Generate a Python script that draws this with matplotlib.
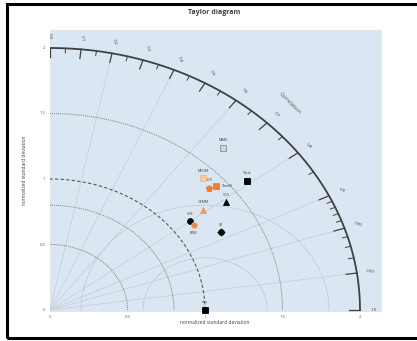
'''
Taylor diagram of normalized standard deviation vs correlation.
'''
import numpy as np
import matplotlib
matplotlib.use('Agg')
import matplotlib.pyplot as plt
from matplotlib.patches import Rectangle

plt.rcParams['font.family'] = ['Open Sans', 'DejaVu Sans']

# data
models = ['obs', 'MAM', 'MOSM', 'LGR', 'TimeN', 'Total',
          'SOS', 'GEMM', 'GSF', 'ERM', 'LR']
std_dev = [1.0, 1.67, 1.41, 1.39, 1.43, 1.61, 1.40, 1.25, 1.13, 1.13, 1.25]
corr = [1.0, 0.67, 0.70, 0.74, 0.75, 0.79, 0.81, 0.79, 0.80, 0.82, 0.88]

std_ticks = [0, 0.5, 1, 1.5, 2]
std_tick_labels = ['0', '0.5', '1', '1.5', '2']
corr_labels = [0.0, 0.1, 0.2, 0.3, 0.4, 0.5, 0.6, 0.7, 0.8, 0.9, 0.95, 0.99, 1.0]
corr_minor = [0.05, 0.15, 0.25, 0.35, 0.45, 0.55, 0.65, 0.75, 0.85,
              0.91, 0.92, 0.93, 0.94, 0.96, 0.97, 0.98]
corr_grid = [0.2, 0.4, 0.6, 0.8, 0.9, 0.95, 0.99]
std_arcs = [0.5, 0.8, 1.5]
rms_arcs = [0.4, 0.8]

# marker styles (marker, face, edge, label position)
styles = {
    'obs': ('s', 'black', 'black', 'above'),
    'MAM': ('s', '#d4d4d4', '#8c8c8c', 'above'),
    'MOSM': ('s', '#f6cba4', '#efb583', 'above'),
    'LGR': ('p', '#ed7d31', '#ed7d31', 'above'),
    'TimeN': ('s', '#ed7d31', '#ed7d31', 'right'),
    'Total': ('s', 'black', 'black', 'above'),
    'SOS': ('^', 'black', 'black', 'above'),
    'GEMM': ('^', '#f09a5a', '#f09a5a', 'above'),
    'GSF': ('o', 'black', 'black', 'above'),
    'ERM': ('o', '#e8874a', '#f4b88e', 'below'),
    'LR': ('o', 'black', 'black', 'above'),
}


def polar_xy(r, c):
    theta = np.arccos(np.asarray(c, dtype=float))
    return r * np.cos(theta), r * np.sin(theta)


W, H = 417, 341
fig = plt.figure(figsize=(W / 100, H / 100), dpi=100)
fig.patch.set_facecolor('white')
ax = fig.add_axes([50 / W, (H - 312) / H, (382 - 50) / W, (312 - 30) / H])
ax.set_facecolor('#dbe6f3')
ax.set_xlim(0, 332 / 155)
ax.set_ylim(-2 / 131, 280 / 131)
for s in ax.spines.values():
    s.set_visible(False)
ax.set_xticks([])
ax.set_yticks([])

t = np.linspace(0, np.pi / 2, 300)

# radial correlation gridlines
for c in corr_grid:
    x, y = polar_xy(2.0, c)
    ax.plot([0, x], [0, y], color='#c4ccd8', lw=0.5, zorder=1)

# rms circles centred on the reference
for rr in rms_arcs:
    tt = np.linspace(0, np.pi, 400)
    x = 1 + rr * np.cos(tt)
    y = rr * np.sin(tt)
    ax.plot(x, y, color='#c4ccd8', lw=0.6, zorder=1)

# std dev arcs
for r in std_arcs:
    ax.plot(r * np.cos(t), r * np.sin(t), color='#7f7f7f', lw=0.7,
            ls=(0, (1, 1)), zorder=2)
ax.plot(np.cos(t), np.sin(t), color='#595959', lw=0.8,
        ls=(0, (3, 2)), zorder=2)

# outer arc and ticks
ax.plot(2 * np.cos(t), 2 * np.sin(t), color='#404040', lw=1.3, zorder=3)
for c in corr_labels:
    x0, y0 = polar_xy(2.0, c)
    x1, y1 = polar_xy(1.93, c)
    ax.plot([x0, x1], [y0, y1], color='#404040', lw=0.9, zorder=3)
    xl, yl = polar_xy(2.09, c)
    lab = '%.1f' % c if round(c * 10) == c * 10 else '%g' % c
    ax.text(xl, yl, lab, fontsize=3.2, color='#404040', ha='center',
            va='center', rotation=-np.degrees(np.arccos(c)), clip_on=False)
for c in corr_minor:
    x0, y0 = polar_xy(2.0, c)
    x1, y1 = polar_xy(1.965, c)
    ax.plot([x0, x1], [y0, y1], color='#404040', lw=0.7, zorder=3)

xc, yc = polar_xy(2.21, 0.70)
ax.text(xc, yc, 'Correlation', fontsize=4, color='#595959', ha='center',
        va='center', rotation=-45)

# std tick labels
for v, lab in zip(std_ticks, std_tick_labels):
    ax.text(v, -0.04, lab, fontsize=3, color='#595959', ha='center', va='top',
            clip_on=False)
    ax.text(-0.03, v, lab, fontsize=3, color='#595959', ha='right',
            va='center', clip_on=False)

# model points
xs, ys = polar_xy(np.array(std_dev), corr)
for name, x, y in zip(models, xs, ys):
    mk, fc, ec, pos = styles[name]
    ms = 4.2 if mk != 'p' else 4.6
    ax.plot(x, y, marker=mk, ms=ms, mfc=fc, mec=ec, mew=0.6, ls='none',
            zorder=5, clip_on=False)
    if name == 'LR':
        ax.plot(x, y, marker='+', ms=6, mec='black', mew=0.6, ls='none',
                zorder=5)
    if pos == 'above':
        ax.annotate(name, (x, y), xytext=(0, 4), textcoords='offset points',
                    fontsize=2.6, color='#404040', ha='center', va='bottom')
    elif pos == 'right':
        ax.annotate(name, (x, y), xytext=(4, 0), textcoords='offset points',
                    fontsize=2.6, color='#404040', ha='left', va='center')
    else:
        ax.annotate(name, (x, y), xytext=(0, -4), textcoords='offset points',
                    fontsize=2.6, color='#404040', ha='center', va='top')

fig.text(214 / W, 1 - 12 / H, 'Taylor diagram', fontsize=5,
         fontweight='bold', color='#404040', ha='center', va='center')
fig.text(215 / W, 1 - 323 / H, 'normalized standard deviation', fontsize=3.5,
         color='#404040', ha='center', va='center')
fig.text(25 / W, 1 - 170 / H, 'normalized standard deviation', fontsize=3.5,
         color='#404040', ha='center', va='center', rotation=90)

# outer frame
fig.add_artist(Rectangle((7 / W, 3 / H), 1.0, (338 - 4) / H, fill=False,
                         lw=2.2, edgecolor='black',
                         transform=fig.transFigure))

fig.savefig('out.png', dpi=100)
